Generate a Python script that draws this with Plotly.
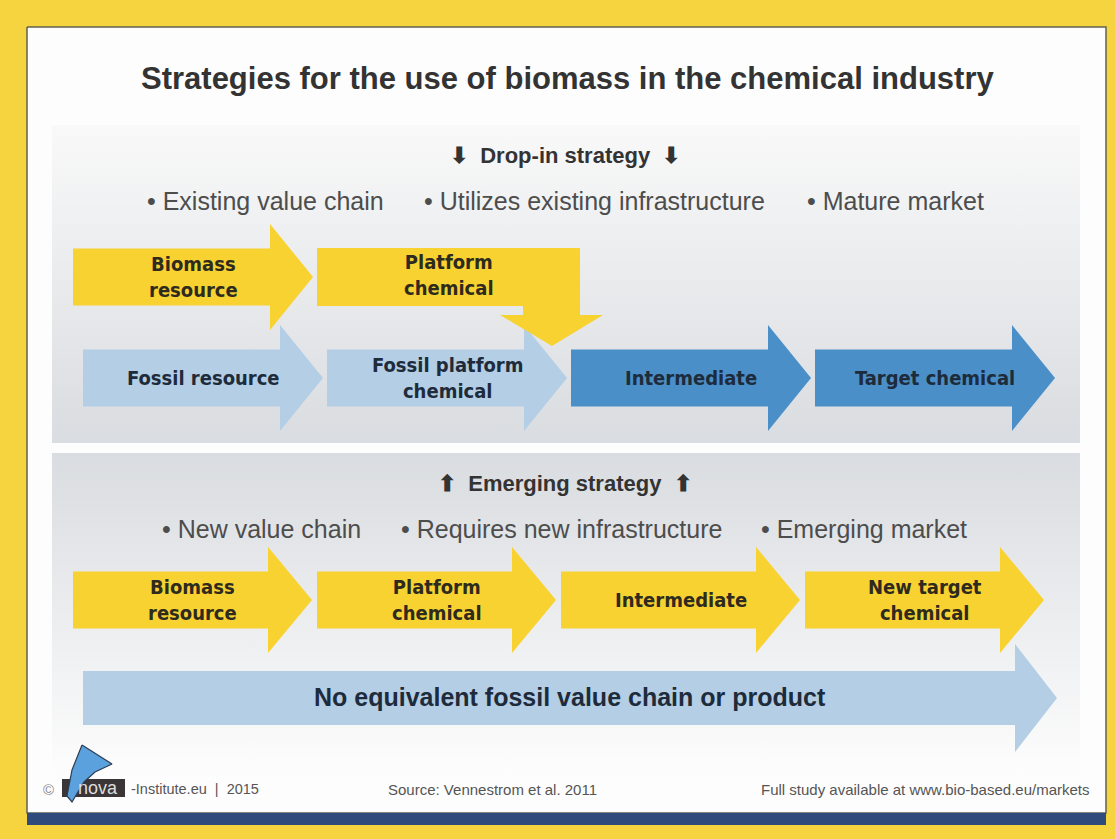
import plotly.graph_objects as go

# ---------------- data (texts of the diagram) ----------------
title_text = "Strategies for the use of biomass in the chemical industry"
dropin_heading = "⬇  Drop-in strategy  ⬇"
dropin_bullets = ["• Existing value chain", "• Utilizes existing infrastructure", "• Mature market"]
dropin_bio_labels = ["Biomass<br>resource", "Platform<br>chemical"]
dropin_fossil_labels = ["Fossil resource", "Fossil platform<br>chemical", "Intermediate", "Target chemical"]
dropin_fossil_kind = ["fossil", "fossil", "shared", "shared"]
emerging_heading = "⬆  Emerging strategy  ⬆"
emerging_bullets = ["• New value chain", "• Requires new infrastructure", "• Emerging market"]
emerging_bio_labels = ["Biomass<br>resource", "Platform<br>chemical", "Intermediate", "New target<br>chemical"]
emerging_fossil_label = "No equivalent fossil value chain or product"
footer_left = "-Institute.eu  |  2015"
footer_source = "Source: Vennestrom et al. 2011"
footer_right = "Full study available at www.bio-based.eu/markets"

# ---------------- styles / geometry ----------------
W, H = 1115, 839
YELLOW_BG = "#f6d43f"
YELLOW = "#f8d231"
LIGHT_BLUE = "#b4cee5"
MID_BLUE = "#4b8fc8"
NAVY = "#2e4b7c"
TXT_Y = "#2e2a1e"
TXT_B = "#1d2b3b"
NARROW = "Liberation Sans Narrow, Arial Narrow, DejaVu Sans Condensed, sans-serif"
SANS = "Liberation Sans, Arial, Helvetica, sans-serif"

STEP = 244
BODY = 197
HEAD = 43
BH = 28.5
HH = 53

fig = go.Figure()


def poly(xs, ys, color, line=None, lw=0):
    fig.add_trace(go.Scatter(
        x=list(xs) + [xs[0]], y=list(ys) + [ys[0]], mode="lines", fill="toself",
        fillcolor=color, line=dict(width=lw, color=line or color),
        hoverinfo="skip", showlegend=False))


def grad_rect(x0, x1, y0, y1, ctop, cbot):
    fig.add_trace(go.Scatter(
        x=[x0, x1, x1, x0, x0], y=[y0, y0, y1, y1, y0], mode="lines", fill="toself",
        fillgradient=dict(type="vertical", colorscale=[[0, ctop], [1, cbot]], start=y0, stop=y1),
        line=dict(width=0), hoverinfo="skip", showlegend=False))


def arrow(x0, yc, body=BODY, head=HEAD, bh=BH, hh=HH, color=YELLOW):
    xs = [x0, x0 + body, x0 + body, x0 + body + head, x0 + body, x0 + body, x0]
    ys = [yc - bh, yc - bh, yc - hh, yc, yc + hh, yc + bh, yc + bh]
    poly(xs, ys, color)
    return x0 + (body + head) / 2


def label(x, y, text, color, size=19, family=NARROW, bold=True, anchor="center"):
    fig.add_annotation(x=x, y=y, text=("<b>%s</b>" % text) if bold else text, showarrow=False,
                       xanchor=anchor, yanchor="middle",
                       font=dict(family=family, size=size, color=color))


# white inner panel with border
poly([27, 1106, 1106, 27], [27, 27, 813, 813], "#fdfdfd", line="#5f6152", lw=1.5)
# navy band at bottom
poly([27, 1106, 1106, 27], [813, 813, 825, 825], NAVY)

# gradient panels
grad_rect(52, 1080, 125, 443, "#f9f9f9", "#d9dce0")
grad_rect(52, 1080, 453, 775, "#d9dce0", "#fdfdfd")

# title & headings
label(567, 78, title_text, "#333333", size=31, family=SANS)
label(565, 155, dropin_heading, "#333333", size=22, family=SANS)
label(565, 483, emerging_heading, "#333333", size=22, family=SANS)

dropin_bullet_x = [265, 594, 895]
for bx, t in zip(dropin_bullet_x, dropin_bullets):
    label(bx, 201, t, "#4d4d4d", size=25, family=SANS, bold=False)
emerging_bullet_x = [261, 561, 864]
for bx, t in zip(emerging_bullet_x, emerging_bullets):
    label(bx, 529, t, "#4d4d4d", size=25, family=SANS, bold=False)

# ---- drop-in: fossil row (drawn first, yellow overlaps) ----
for i, (t, k) in enumerate(zip(dropin_fossil_labels, dropin_fossil_kind)):
    c = LIGHT_BLUE if k == "fossil" else MID_BLUE
    cx = arrow(83 + i * STEP, 378, color=c)
    label(cx, 378, t, TXT_B, size=20)

# ---- drop-in: bio row ----
cx = arrow(73, 277)
label(cx, 277, dropin_bio_labels[0], TXT_Y, size=20)
# platform chemical: bent arrow pointing down into the intermediate
px0 = 73 + STEP
pxs = [px0, 580, 580, 603, 552, 500, 523, 523, px0]
pys = [248, 248, 315, 315, 346, 315, 315, 306, 306]
poly(pxs, pys, YELLOW)
label((px0 + 580) / 2, 275, dropin_bio_labels[1], TXT_Y, size=20)

# ---- emerging: long fossil arrow first ----
cx = arrow(83, 698, body=932, head=42, bh=27, hh=54, color=LIGHT_BLUE)
label(cx, 697, emerging_fossil_label, TXT_B, size=25, family=SANS)

# ---- emerging: bio row ----
for i, t in enumerate(emerging_bio_labels):
    cx = arrow(73 + i * STEP, 600, body=BODY - 2, head=44)
    label(cx, 600, t, TXT_Y, size=20)

# ---- footer ----
label(48, 789, "©", "#888888", size=15, family=SANS, bold=False)
poly([62, 125, 125, 62], [779, 779, 797, 797], "#3a3537")
label(98, 788, "nova", "#dedede", size=18, family=SANS, bold=False)
poly([82, 112, 95, 84, 72, 67, 72], [745, 764, 772, 782, 802, 796, 770],
     "#5ba1dd", line="#2c3e55", lw=1.2)
label(129, 789, footer_left, "#555555", size=14.5, family=SANS, bold=False, anchor="left")
label(492, 789, footer_source, "#555555", size=15, family=SANS, bold=False)
label(1092, 789, footer_right, "#555555", size=15, family=SANS, bold=False, anchor="right")

fig.update_layout(
    width=W, height=H, margin=dict(l=0, r=0, t=0, b=0),
    paper_bgcolor=YELLOW_BG, plot_bgcolor=YELLOW_BG,
    xaxis=dict(range=[0, W], visible=False, fixedrange=True),
    yaxis=dict(range=[H, 0], visible=False, fixedrange=True),
    showlegend=False,
)

fig.write_html("out.html", config={"displayModeBar": False, "staticPlot": True},
               post_script="document.body.style.margin='0';document.body.style.overflow='hidden';")
